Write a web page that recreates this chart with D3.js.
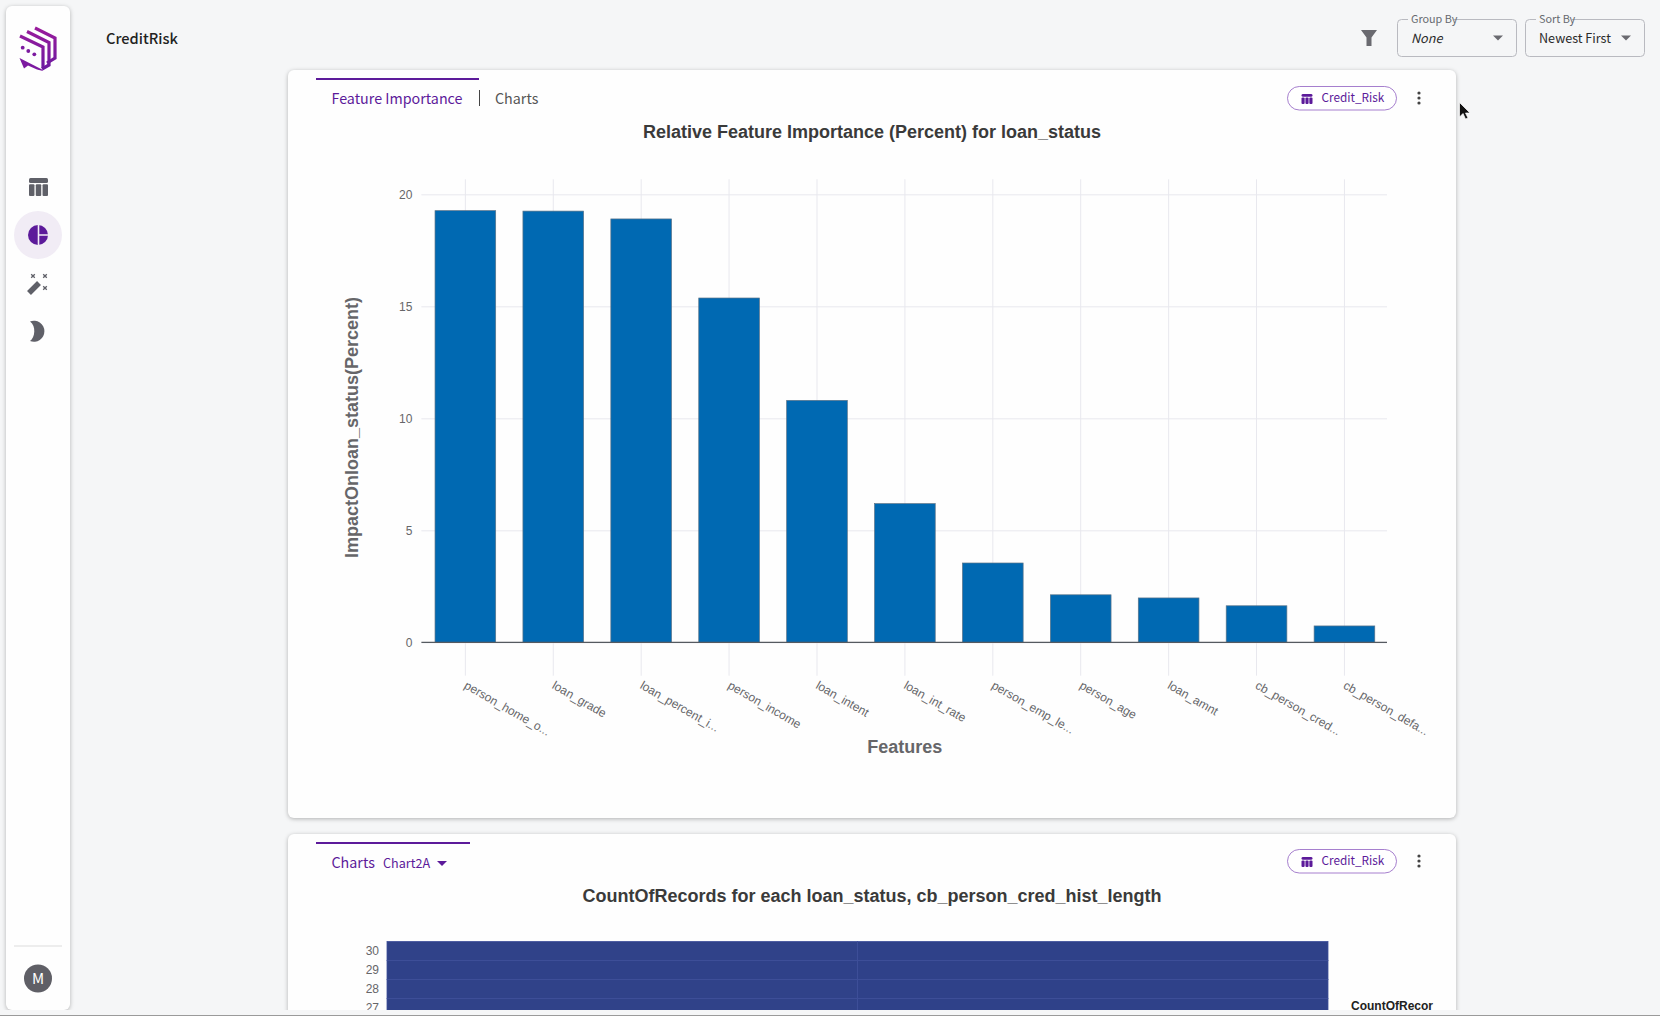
<!DOCTYPE html>
<html>
<head>
<meta charset="utf-8">
<title>CreditRisk</title>
<script src="https://cdnjs.cloudflare.com/ajax/libs/d3/7.8.5/d3.min.js"></script>
<style>
	html, body { margin: 0; padding: 0; background: #f5f6f7; overflow: hidden; }
	svg { display: block; }
</style>
</head>
<body>
<div id="holder"></div>
<script>
//chart values
var features = ["person_home_o...", "loan_grade", "loan_percent_i...", "person_income", "loan_intent", "loan_int_rate", "person_emp_le...", "person_age", "loan_amnt", "cb_person_cred...", "cb_person_defa..."];
var importance = [19.27, 19.25, 18.9, 15.37, 10.8, 6.19, 3.54, 2.12, 1.98, 1.63, 0.73];
var importanceTicks = [0, 5, 10, 15, 20];

//second chart is cut off by the window, only the top rows show
var histLengths = ["30", "29", "28", "27"];
var loanStatuses = ["0", "1"];
var countsStatus0 = [40, 35, 45, 50];
var countsStatus1 = [10, 8, 12, 12];

var uiFont = "'Noto Sans CJK SC', 'Noto Sans', sans-serif";
var chartFont = "'Liberation Sans', Arial, sans-serif";
var purple = "#5c1a9a";
var iconGrey = "#5f6068";

var svg = d3.select("#holder").append("svg")
	.attr("width", 1660)
	.attr("height", 1016);

var defs = svg.append("defs");
var logoGrad = defs.append("linearGradient")
	.attr("id", "logoGrad")
	.attr("gradientUnits", "userSpaceOnUse")
	.attr("x1", "0").attr("y1", "27").attr("x2", "0").attr("y2", "71");
logoGrad.append("stop").attr("offset", "0").attr("stop-color", "#9a1b9c");
logoGrad.append("stop").attr("offset", "1").attr("stop-color", "#6a1aa0");
defs.append("clipPath").attr("id", "pageClip").append("rect")
	.attr("width", 1660).attr("height", 1010);

function addText(parent, x, y, str, size, color, font, weight, style){
	return parent.append("text")
		.attr("x", x)
		.attr("y", y)
		.attr("fill", color)
		.style("font-family", font || uiFont)
		.style("font-size", size + "px")
		.style("font-weight", weight || 400)
		.style("font-style", style || "normal")
		.text(str);
}

function addCard(parent, x, y, w, h){
	return parent.append("rect")
		.attr("x", x).attr("y", y)
		.attr("width", w).attr("height", h)
		.attr("rx", 6)
		.attr("fill", "#fefefe")
		.style("filter", "drop-shadow(0 1px 2px rgba(0,0,0,0.28))");
}

//table glyph, used in the sidebar and the dataset chips
function addTableIcon(parent, x, y, w, h, color){
	var top = h * 0.28, gap = w * 0.07, col = (w - 2 * gap) / 3;
	parent.append("rect").attr("x", x).attr("y", y).attr("width", w).attr("height", top).attr("rx", 1.5).attr("fill", color);
	[0, 1, 2].forEach(function(i){
		parent.append("rect")
			.attr("x", x + i * (col + gap))
			.attr("y", y + top + gap)
			.attr("width", col)
			.attr("height", h - top - gap)
			.attr("rx", 1)
			.attr("fill", color);
	});
}

function addCaret(parent, cx, cy, color){
	parent.append("path")
		.attr("d", "M" + (cx - 5) + " " + (cy - 2.5) + "h10l-5 5z")
		.attr("fill", color);
}

function addKebab(parent, cx, cy){
	[-5, 0, 5].forEach(function(d){
		parent.append("circle").attr("cx", cx).attr("cy", cy + d).attr("r", 1.6).attr("fill", "#444");
	});
}

function addChip(parent, y){
	parent.append("rect")
		.attr("x", 1287.5).attr("y", y)
		.attr("width", 109).attr("height", 23.5)
		.attr("rx", 11.75)
		.attr("fill", "#fff")
		.attr("stroke", "#a67fce");
	addTableIcon(parent, 1301.5, y + 7.5, 11, 10, purple);
	addText(parent, 1321.5, y + 15.5, "Credit_Risk", 11.8, purple);
	addKebab(parent, 1419, y + 11.5);
}

//select box with the label notched into the border
function addSelect(parent, x, label, labelW, value, italic, caretX){
	parent.append("rect")
		.attr("x", x + 0.5).attr("y", 19.5)
		.attr("width", 119).attr("height", 37)
		.attr("rx", 4)
		.attr("fill", "none")
		.attr("stroke", "#b9bac0");
	parent.append("rect")
		.attr("x", x + 11).attr("y", 16)
		.attr("width", labelW).attr("height", 6)
		.attr("fill", "#f5f6f7");
	addText(parent, x + 14, 23, label, 10.8, "#666a70");
	addText(parent, x + 14, 43, value, 12.6, "#2a2a2a", uiFont, 400, italic ? "italic" : "normal");
	addCaret(parent, caretX, 38, "#6a6a70");
}

/* page frame */
var page = svg.append("g").attr("clip-path", "url(#pageClip)");

//sidebar
addCard(page, 6, 6, 64, 1004);
var side = page.append("g");
var logo = side.append("g")
	.attr("fill", "none")
	.attr("stroke", "url(#logoGrad)")
	.attr("stroke-width", 3.2);
logo.append("path").attr("d", "M35 28L55 38V58L47 63");
logo.append("path").attr("d", "M27 31.5L49 42.5V65L42 69");
logo.append("path").attr("d", "M20 36L43 47V68");
//speech bubble at the bottom left
side.append("path").attr("d", "M19.5 58L42 69.5L43 71L37 69.5L28 65.5L24 68.5Z").attr("fill", "#7c1aa0");
[[22.7, 47.7], [28.3, 51], [34.3, 54.3]].forEach(function(p){
	side.append("circle").attr("cx", p[0]).attr("cy", p[1]).attr("r", 1.9).attr("fill", "#7c1aa0");
});

addTableIcon(side, 29, 178, 19, 18, iconGrey);

side.append("circle").attr("cx", 38).attr("cy", 235).attr("r", 24).attr("fill", "#f1ecf5");
side.append("circle").attr("cx", 38).attr("cy", 235).attr("r", 10).attr("fill", purple);
side.append("path").attr("d", "M38.5 224V246M38.5 235H49").attr("stroke", "#f1ecf5").attr("stroke-width", 1.6);

//wand and its sparkles
side.append("path").attr("d", "M29 293L39 283").attr("stroke", iconGrey).attr("stroke-width", 5.5);
[[33, 276], [45, 276], [45, 288]].forEach(function(p){
	side.append("path")
		.attr("d", "M" + (p[0] - 1.8) + " " + (p[1] - 1.8) + "l3.6 3.6m0 -3.6l-3.6 3.6")
		.attr("stroke", iconGrey)
		.attr("stroke-width", 1.3);
});

side.append("path").attr("d", "M30 321.5A10.5 10.5 0 1 1 30 341C35 338 36.5 326 30 321.5Z").attr("fill", iconGrey);

side.append("line").attr("x1", 14).attr("x2", 62).attr("y1", 946).attr("y2", 946).attr("stroke", "#dcdcdc");
side.append("circle").attr("cx", 38).attr("cy", 978.5).attr("r", 14).attr("fill", "#5f5f66");
addText(side, 38, 984, "M", 15, "#fff").attr("text-anchor", "middle");

//header
addText(page, 106, 44, "CreditRisk", 14.6, "#222", uiFont, 500);
page.append("path")
	.attr("d", "M1361 30H1377L1371.5 37.5V46H1366.5V37.5Z")
	.attr("fill", "#6a6a70");
addSelect(page, 1397, "Group By", 46, "None", true, 1498);
addSelect(page, 1525, "Sort By", 36, "Newest First", false, 1626);

/* first card */
addCard(page, 288, 70, 1168, 748);
page.append("rect").attr("x", 316).attr("y", 78).attr("width", 163).attr("height", 2).attr("fill", purple);
addText(page, 331.5, 104, "Feature Importance", 14.3, purple);
page.append("line").attr("x1", 479.5).attr("x2", 479.5).attr("y1", 90).attr("y2", 106).attr("stroke", "#444");
addText(page, 495, 104, "Charts", 14.3, "#555");
addChip(page, 86.5);
addText(page, 872, 138, "Relative Feature Importance (Percent) for loan_status", 18, "#3a3a3a", chartFont, 700)
	.attr("text-anchor", "middle");

var x = d3.scaleBand()
	.domain(features)
	.range([421.4, 1388.4])
	.paddingInner(0.31)
	.paddingOuter(0.155);
var y = d3.scaleLinear()
	.domain([0, 20])
	.range([642.3, 194.3]);

var gridColor = "#e8e8ee";
var tickColor = "#666669";

var yAxis = page.append("g")
	.attr("transform", "translate(" + x.range()[0] + ",0)")
	.call(d3.axisLeft(y).tickValues(importanceTicks).tickSize(-965.6).tickPadding(9));
yAxis.select(".domain").remove();
yAxis.selectAll("line").attr("stroke", gridColor);
yAxis.selectAll("text")
	.attr("fill", tickColor)
	.style("font-family", chartFont)
	.style("font-size", "12px");

var gridBottom = 675.7, gridTop = 179.3;
var xAxis = page.append("g")
	.attr("transform", "translate(0," + gridBottom + ")")
	.call(d3.axisBottom(x).tickSize(gridTop - gridBottom));
xAxis.select(".domain").remove();
xAxis.selectAll("line").attr("stroke", gridColor);
xAxis.selectAll("text")
	.attr("fill", tickColor)
	.attr("text-anchor", "start")
	.attr("dy", null)
	.attr("x", 0)
	.attr("y", 0)
	.attr("transform", "translate(-2,12) rotate(30)")
	.style("font-family", chartFont)
	.style("font-size", "12px");

page.append("g").selectAll("rect")
	.data(importance)
	.enter().append("rect")
		.attr("x", function(d, i){ return x(features[i]); })
		.attr("y", function(d){ return y(d); })
		.attr("width", x.bandwidth())
		.attr("height", function(d){ return y(0) - y(d); })
		.attr("fill", "#0069b2")
		.attr("stroke", "#5a7388")
		.attr("stroke-width", 0.7);

page.append("line")
	.attr("x1", x.range()[0]).attr("x2", 1387)
	.attr("y1", y(0)).attr("y2", y(0))
	.attr("stroke", "#555a60")
	.attr("stroke-width", 1.3);

addText(page, 0, 0, "ImpactOnloan_status(Percent)", 18, tickColor, chartFont, 700)
	.attr("text-anchor", "middle")
	.attr("transform", "translate(358,427.5) rotate(-90)");
addText(page, 904.7, 753, "Features", 18, tickColor, chartFont, 700)
	.attr("text-anchor", "middle");

/* second card, runs past the bottom of the window */
addCard(page, 288, 834, 1168, 300);
page.append("rect").attr("x", 316).attr("y", 842).attr("width", 154).attr("height", 2).attr("fill", purple);
addText(page, 331.5, 867.5, "Charts", 14.3, purple);
addText(page, 383, 867.5, "Chart2A", 12.6, purple);
addCaret(page, 442, 863.5, purple);
addChip(page, 849.5);
addText(page, 872, 902, "CountOfRecords for each loan_status, cb_person_cred_hist_length", 18, "#3a3a3a", chartFont, 700)
	.attr("text-anchor", "middle");

var heatX = d3.scaleBand().domain(loanStatuses).range([387, 1328]);
var heatY = d3.scaleBand().domain(histLengths).range([941.5, 941.5 + 19 * histLengths.length]);
var heatColor = d3.scaleLinear().domain([0, 14000]).range(["#2f4189", "#e8f4c8"]);

var heatCounts = [countsStatus0, countsStatus1];
var heatCells = [];
heatCounts.forEach(function(col, c){
	col.forEach(function(v, r){
		heatCells.push({status: loanStatuses[c], length: histLengths[r], value: v});
	});
});

page.append("g").selectAll("rect")
	.data(heatCells)
	.enter().append("rect")
		.attr("x", function(d){ return heatX(d.status); })
		.attr("y", function(d){ return heatY(d.length); })
		.attr("width", heatX.bandwidth())
		.attr("height", heatY.bandwidth())
		.attr("fill", function(d){ return heatColor(d.value); })
		.attr("stroke", "#3e4f9a")
		.attr("stroke-width", 0.8);

var heatAxis = page.append("g")
	.attr("transform", "translate(387,0.5)")
	.call(d3.axisLeft(heatY).tickSize(0).tickPadding(8));
heatAxis.select(".domain").remove();
heatAxis.selectAll("text")
	.attr("fill", tickColor)
	.style("font-family", chartFont)
	.style("font-size", "12px");

addText(page, 1351, 1009.5, "CountOfRecor", 12, "#222", chartFont, 700);

//bottom edge of the window
svg.append("line").attr("x1", 0).attr("x2", 1660).attr("y1", 1015.5).attr("y2", 1015.5).attr("stroke", "#9a9a9a");

//mouse pointer
svg.append("path")
	.attr("d", "M1459.5 102.5V117L1463 113.5L1465.5 119L1468 118L1465.5 113H1470Z")
	.attr("fill", "#111")
	.attr("stroke", "#fff")
	.attr("stroke-width", 0.7);
</script>
</body>
</html>
